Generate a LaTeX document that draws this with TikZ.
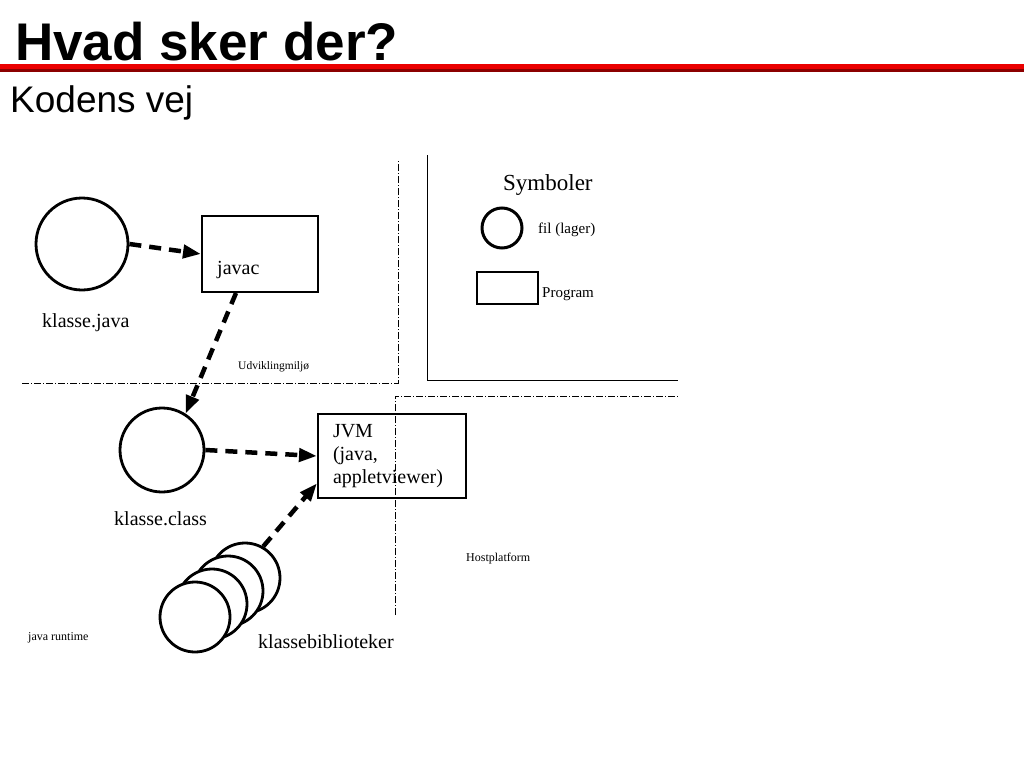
\documentclass[tikz,border=0pt]{standalone}
\usepackage{fontspec}
\setmainfont{Liberation Serif}
\newfontfamily\headfont{Liberation Sans}
\usetikzlibrary{positioning,arrows.meta}

\newcommand{\txtsize}[1]{\fontsize{#1}{#1}\selectfont}

\tikzset{
  file/.style={draw,circle,line width=2.8pt,inner sep=0pt,fill=white},
  prog/.style={draw,rectangle,line width=2pt,inner sep=0pt},
  flow/.style={line width=4.5pt,dash pattern=on 12pt off 8pt,
    -{Triangle[length=18pt,width=13pt]}},
  zone/.style={line width=0.8pt,dash pattern=on 7pt off 2pt on 1pt off 2pt},
  lbl/.style={anchor=base west,inner sep=0pt},
}

\begin{document}
\begin{tikzpicture}[x=1pt,y=-1pt]
  \useasboundingbox (0,0) rectangle (1024,768);

  % heading
  \node[lbl,font=\headfont\bfseries\txtsize{53}] (title) at (15,60) {Hvad sker der?};
  \draw[line width=4.5pt,red!92!black] (0,66.5) -- (1024,66.5);
  \draw[line width=2.5pt,red!55!black] (0,70.5) -- (1024,70.5);
  \node[lbl,font=\headfont\txtsize{37}] (subtitle) at (10,112) {Kodens vej};

  % zones
  \draw[zone] (22,383) -- (398,383) -- (398,160);
  \draw[line width=1pt] (427,155) -- (427,380) -- (678,380);
  \draw[zone] (395,615) -- (395,396) -- (678,396);
  \node[lbl,font=\txtsize{11.5}] (devzone) at (238,369) {Udviklingmiljø};
  \node[lbl,font=\txtsize{12}] (hostzone) at (466,561) {Hostplatform};
  \node[lbl,font=\txtsize{12}] (rtzone) at (28,640) {java runtime};

  % legend
  \node[lbl,font=\txtsize{23}] (symhead) at (503,190) {Symboler};
  \node[file,line width=3pt,minimum size=40pt] (symfile) at (502,228) {};
  \node[lbl,font=\txtsize{15}] (symfilel) at (538,233) {fil (lager)};
  \node[prog,minimum width=61pt,minimum height=32pt] (symprog) at (507.5,288) {};
  \node[lbl,font=\txtsize{15}] (symprogl) at (542,297) {Program};

  % files and programs
  \node[file,minimum size=92pt] (javasrc) at (82,244) {};
  \node[lbl,font=\txtsize{20}] (javasrcl) at (42,327) {klasse.java};
  \node[prog,minimum width=116pt,minimum height=76pt] (javac) at (260,254) {};
  \node[lbl,font=\txtsize{20}] (javacl) at (217,274) {javac};
  \node[file,minimum size=84pt] (klsclass) at (162,450) {};
  \node[lbl,font=\txtsize{20}] (klsclassl) at (114,525) {klasse.class};
  \node[prog,minimum width=148pt,minimum height=84pt,text width=118pt,
    align=left,font=\fontsize{20}{23}\selectfont] (jvm) at (392,456)
    {JVM\\(java,\\appletviewer)};

  % class libraries, back to front
  \foreach \i/\cx/\cy in {1/245/578,2/228/591,3/212/604,4/195/617}
    \node[file,minimum size=70pt] (lib\i) at (\cx,\cy) {};
  \node[lbl,font=\txtsize{20}] (libl) at (258,648) {klassebiblioteker};

  % flow
  \draw[flow] (javasrc.east) -- (javac.west);
  \draw[flow] ([xshift=-24pt]javac.south) -- (klsclass.57);
  \draw[flow] (klsclass.east) -- (jvm.west);
  \draw[flow] (lib1.60) -- (jvm.200);

\end{tikzpicture}
\end{document}
